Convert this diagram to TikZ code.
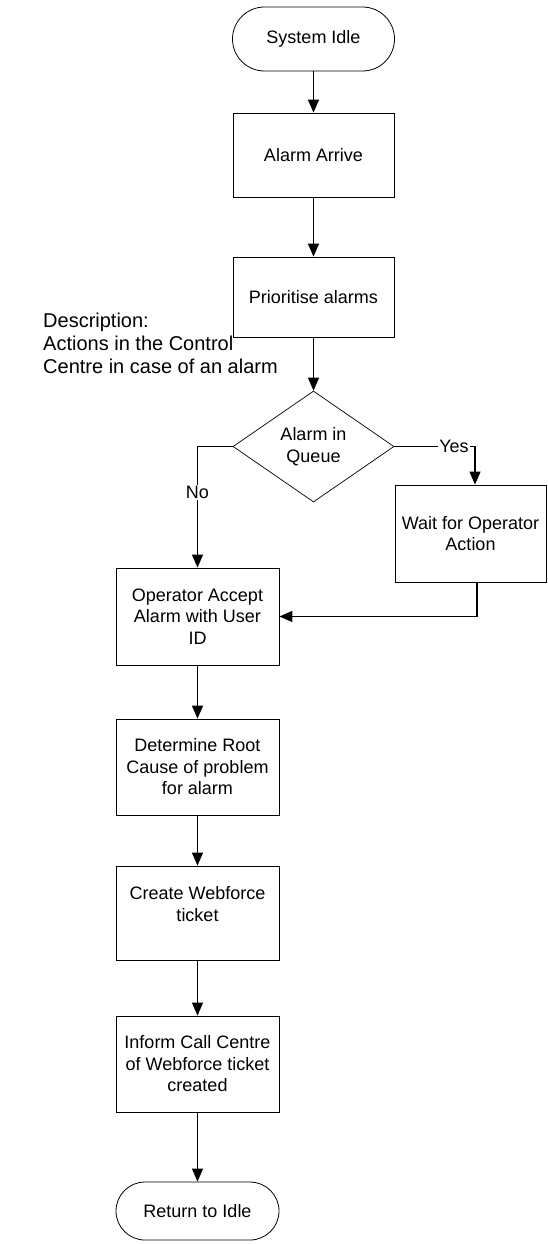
\documentclass[tikz,border=0pt]{standalone}
\usepackage{fontspec}
\setmainfont{Liberation Sans}
\usetikzlibrary{shapes.geometric,arrows.meta}
\begin{document}
\begin{tikzpicture}[x=1pt,y=-1pt,
  txt/.style={font=\fontsize{18}{21.5}\selectfont, align=center, inner sep=0pt},
  box/.style={txt, draw, line width=0.8pt, minimum width=163pt},
  term/.style={txt, draw, line width=0.8pt, minimum width=162pt},
  dia/.style={txt, diamond, draw, line width=0.7pt, minimum width=161pt, minimum height=111pt},
  flow/.style={line width=1.5pt, -{Triangle[length=13pt,width=11pt]}},
  thin flow/.style={line width=1.1pt, -{Triangle[length=13pt,width=11pt]}},
  tag/.style={font=\fontsize{18}{21.5}\selectfont, fill=white, inner sep=1.5pt},
  desc/.style={font=\fontsize{20}{23}\selectfont, align=left, inner sep=0pt, anchor=north west}
]
\useasboundingbox (0,0) rectangle (547,1244);

% main column
\node[term, minimum height=64pt, rounded corners=32pt] (idle) at (313.5,39) {System Idle};
\node[box, minimum width=161pt, minimum height=84pt] (arrive) at (313.5,155) {Alarm Arrive};
\node[box, minimum width=161pt, minimum height=80pt] (prio) at (313.5,297) {Prioritise alarms};
\node[dia] (queue) at (313.5,446.5) {Alarm in\\Queue};

% waiting branch
\node[box, minimum width=151pt, minimum height=97pt] (wait) at (470.5,533.5) {Wait for Operator\\Action};

% lower column
\node[box, minimum height=97pt] (accept) at (197.5,616.5) {Operator Accept\\Alarm with User\\ID};
\node[box, minimum height=96pt] (root) at (197.5,767) {Determine Root\\Cause of problem\\for alarm};
\node[box, minimum height=94pt] (ticket) at (197.5,913) {};
\node[txt] (tickettext) at (197.5,904) {Create Webforce\\ticket};
\node[box, minimum height=96pt] (inform) at (197.5,1064) {Inform Call Centre\\of Webforce ticket\\created};
\node[term, minimum width=163pt, minimum height=58pt, rounded corners=29pt] (back) at (197.5,1211) {Return to Idle};

% description
\node[desc] (about) at (43,313) {Description:\\Actions in the Control\\Centre in case of an alarm};

% connectors
\draw[flow] (idle) -- (arrive);
\draw[flow] (arrive) -- (prio);
\draw[flow] (prio) -- (queue);
\draw[flow] (queue.west) -| node[tag, pos=0.69] (no) {No} (accept.north);
\draw[thin flow] (queue.east) -| node[tag, pos=0.37] (yes) {Yes} ([xshift=4.5pt]wait.north);
\draw[thin flow] ([xshift=6.5pt]wait.south) |- (accept.east);
\draw[flow] (accept) -- (root);
\draw[thin flow] (root) -- (ticket);
\draw[thin flow] (ticket) -- (inform);
\draw[thin flow] (inform) -- (back);
\end{tikzpicture}
\end{document}
